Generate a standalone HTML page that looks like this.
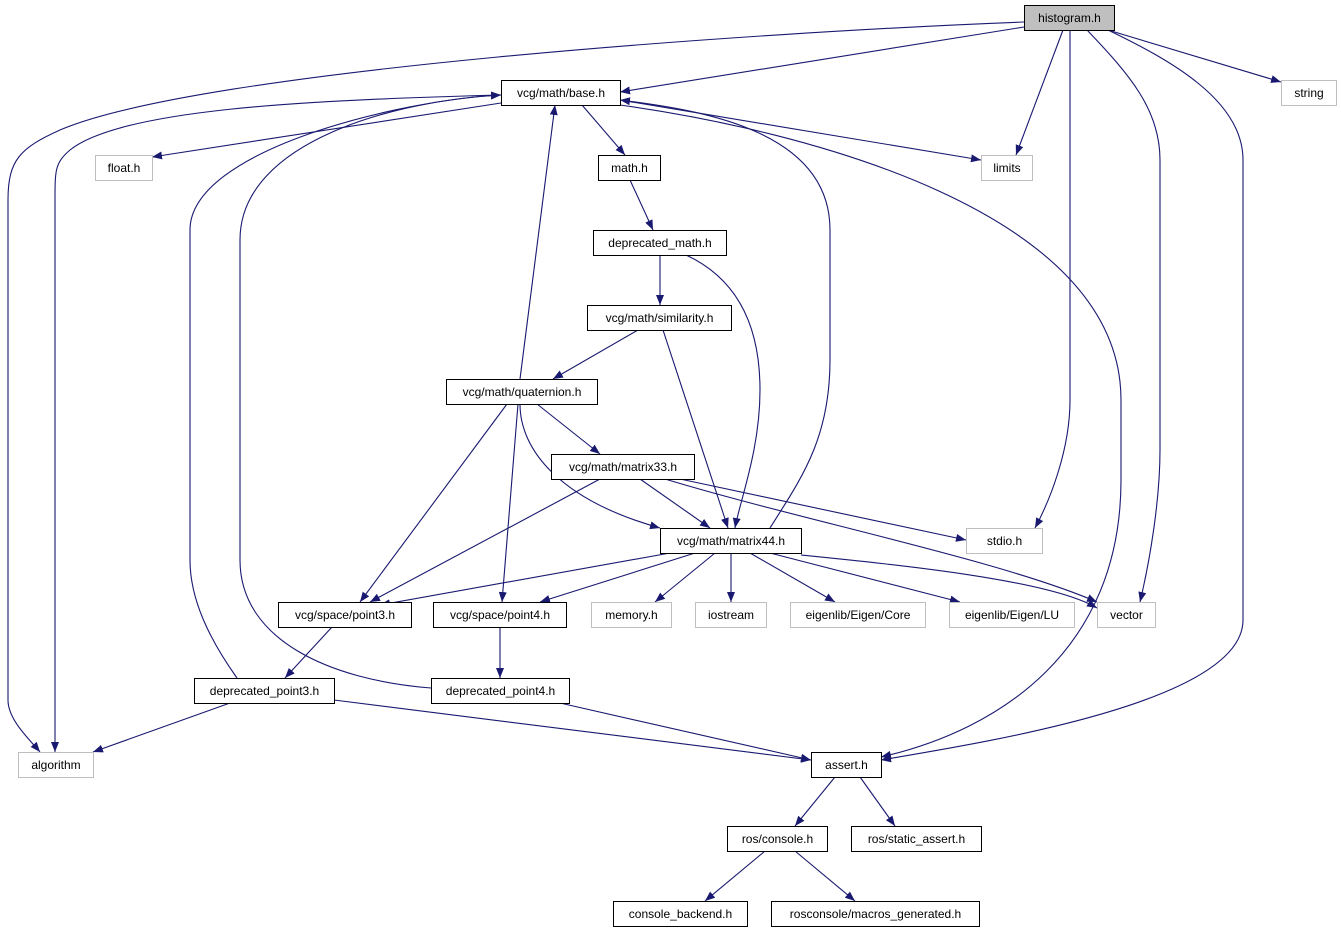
<!DOCTYPE html>
<html><head><meta charset="utf-8"><style>
html,body{margin:0;padding:0;background:#fff;}
svg{display:block;}
text{font-family:"Liberation Sans",sans-serif;font-size:12px;fill:#000;}
</style></head><body>
<svg width="1341" height="933" viewBox="0 0 1341 933" xmlns="http://www.w3.org/2000/svg">
<defs>
<marker id="a" markerWidth="10" markerHeight="8" refX="10" refY="4" orient="auto" markerUnits="userSpaceOnUse">
<path d="M0,0 L10,4 L0,8 Z" fill="#191970"/>
</marker>
</defs>
<g fill="none" stroke="#191970" stroke-width="1.1" marker-end="url(#a)">
<path d="M1024,22 C760,32 200,70 60,130 C20,148 8,160 8,200 L8,700 C8,720 30,740 40,752"/>
<path d="M1024,27 L620,92"/>
<path d="M1063,30 L1016,155"/>
<path d="M1070,30 L1070,400 C1070,450 1050,500 1035,528"/>
<path d="M1087,30 C1130,75 1160,110 1160,160 L1160,450 C1160,500 1150,560 1140,602"/>
<path d="M1108,30 C1170,60 1243,100 1243,160 L1243,620 C1243,700 1000,740 881,760"/>
<path d="M1108,30 L1281,82"/>
<path d="M501,95 C300,100 120,110 70,150 C55,163 55,170 55,200 L55,752"/>
<path d="M501,103 L152,157"/>
<path d="M582,105 L625,155"/>
<path d="M620,100 L981,160"/>
<path d="M620,105 C800,130 1121,210 1121,400 L1121,480 C1121,650 1000,730 881,757"/>
<path d="M770,528 C800,480 830,440 830,360 L830,230 C830,130 700,110 620,100"/>
<path d="M520,379 L555,105"/>
<path d="M237,678 C210,640 190,600 190,560 L190,230 C190,150 400,100 501,95"/>
<path d="M431,688 C330,680 240,640 240,560 L240,240 C240,140 400,100 501,95"/>
<path d="M630,180 L653,230"/>
<path d="M660,255 L660,305"/>
<path d="M686,255 C740,280 760,330 760,390 C760,450 740,500 735,528"/>
<path d="M638,330 L553,379"/>
<path d="M663,330 L728,528"/>
<path d="M537,404 L600,454"/>
<path d="M507,404 L360,602"/>
<path d="M518,404 L502,602"/>
<path d="M520,404 C520,450 560,500 660,528"/>
<path d="M640,479 L710,528"/>
<path d="M600,479 L370,602"/>
<path d="M680,479 L966,540"/>
<path d="M665,479 C800,520 1000,560 1097,602"/>
<path d="M670,553 L380,605"/>
<path d="M695,553 L540,602"/>
<path d="M715,553 L655,602"/>
<path d="M731,553 L731,602"/>
<path d="M750,553 L835,602"/>
<path d="M770,553 L960,602"/>
<path d="M801,555 C900,565 1050,580 1097,608"/>
<path d="M332,627 L285,678"/>
<path d="M500,627 L500,678"/>
<path d="M230,703 L93,752"/>
<path d="M334,700 L811,760"/>
<path d="M560,703 L811,760"/>
<path d="M835,777 L795,826"/>
<path d="M860,777 L895,826"/>
<path d="M765,851 L705,901"/>
<path d="M795,851 L855,901"/>
</g>
<g stroke-width="1" text-anchor="middle">
<rect x="1024.5" y="5.5" width="90" height="25" fill="#bfbfbf" stroke="#000"/><text x="1069.5" y="22">histogram.h</text>
<rect x="501.5" y="80.5" width="119" height="25" fill="#fff" stroke="#000"/><text x="561" y="97">vcg/math/base.h</text>
<rect x="1281.5" y="80.5" width="55" height="25" fill="#fff" stroke="#bfbfbf"/><text x="1309" y="97">string</text>
<rect x="95.5" y="155.5" width="57" height="25" fill="#fff" stroke="#bfbfbf"/><text x="124" y="172">float.h</text>
<rect x="598.5" y="155.5" width="62" height="25" fill="#fff" stroke="#000"/><text x="629.5" y="172">math.h</text>
<rect x="981.5" y="155.5" width="51" height="25" fill="#fff" stroke="#bfbfbf"/><text x="1007" y="172">limits</text>
<rect x="593.5" y="230.5" width="133" height="25" fill="#fff" stroke="#000"/><text x="660" y="247">deprecated_math.h</text>
<rect x="587.5" y="305.5" width="144" height="25" fill="#fff" stroke="#000"/><text x="659.5" y="322">vcg/math/similarity.h</text>
<rect x="446.5" y="379.5" width="151" height="25" fill="#fff" stroke="#000"/><text x="522" y="396">vcg/math/quaternion.h</text>
<rect x="551.5" y="454.5" width="143" height="25" fill="#fff" stroke="#000"/><text x="623" y="471">vcg/math/matrix33.h</text>
<rect x="660.5" y="528.5" width="141" height="25" fill="#fff" stroke="#000"/><text x="731" y="545">vcg/math/matrix44.h</text>
<rect x="966.5" y="528.5" width="76" height="25" fill="#fff" stroke="#bfbfbf"/><text x="1004.5" y="545">stdio.h</text>
<rect x="278.5" y="602.5" width="133" height="25" fill="#fff" stroke="#000"/><text x="345" y="619">vcg/space/point3.h</text>
<rect x="433.5" y="602.5" width="133" height="25" fill="#fff" stroke="#000"/><text x="500" y="619">vcg/space/point4.h</text>
<rect x="591.5" y="602.5" width="80" height="25" fill="#fff" stroke="#bfbfbf"/><text x="631.5" y="619">memory.h</text>
<rect x="695.5" y="602.5" width="71" height="25" fill="#fff" stroke="#bfbfbf"/><text x="731" y="619">iostream</text>
<rect x="790.5" y="602.5" width="135" height="25" fill="#fff" stroke="#bfbfbf"/><text x="858" y="619">eigenlib/Eigen/Core</text>
<rect x="949.5" y="602.5" width="125" height="25" fill="#fff" stroke="#bfbfbf"/><text x="1012" y="619">eigenlib/Eigen/LU</text>
<rect x="1097.5" y="602.5" width="58" height="25" fill="#fff" stroke="#bfbfbf"/><text x="1126.5" y="619">vector</text>
<rect x="194.5" y="678.5" width="140" height="25" fill="#fff" stroke="#000"/><text x="264.5" y="695">deprecated_point3.h</text>
<rect x="431.5" y="678.5" width="138" height="25" fill="#fff" stroke="#000"/><text x="500.5" y="695">deprecated_point4.h</text>
<rect x="18.5" y="752.5" width="75" height="25" fill="#fff" stroke="#bfbfbf"/><text x="56" y="769">algorithm</text>
<rect x="811.5" y="752.5" width="70" height="25" fill="#fff" stroke="#000"/><text x="846.5" y="769">assert.h</text>
<rect x="727.5" y="826.5" width="100" height="25" fill="#fff" stroke="#000"/><text x="777.5" y="843">ros/console.h</text>
<rect x="851.5" y="826.5" width="130" height="25" fill="#fff" stroke="#000"/><text x="916.5" y="843">ros/static_assert.h</text>
<rect x="613.5" y="901.5" width="134" height="25" fill="#fff" stroke="#000"/><text x="680.5" y="918">console_backend.h</text>
<rect x="771.5" y="901.5" width="208" height="25" fill="#fff" stroke="#000"/><text x="875.5" y="918">rosconsole/macros_generated.h</text>
</g>
</svg>
</body></html>
